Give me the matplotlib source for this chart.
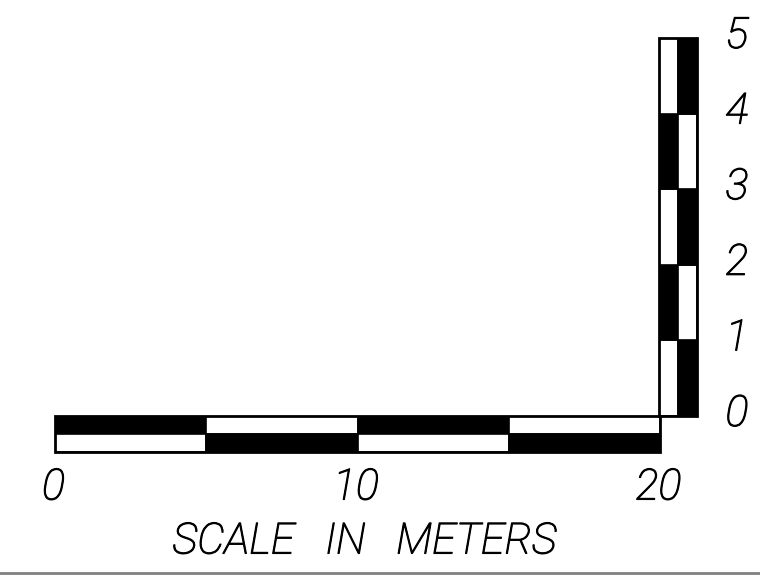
import matplotlib
matplotlib.use("Agg")
import matplotlib.pyplot as plt
import matplotlib.patheffects as pe
from matplotlib.lines import Line2D

# horizontal bar: 0..20 m in 5 m pieces, two rows
h_edges = [0, 5, 10, 15, 20]
h_top_fill = [1, 0, 1, 0]
h_bottom_fill = [0, 1, 0, 1]
h_labels = [0, 10, 20]

# vertical bar: 0..5 m in 1 m pieces, two columns
v_edges = [0, 1, 2, 3, 4, 5]
v_left_fill = [0, 1, 0, 1, 0]
v_right_fill = [1, 0, 1, 0, 1]
v_labels = [0, 1, 2, 3, 4, 5]

title = "SCALE   IN   METERS"

font = dict(family=["Roboto", "DejaVu Sans"], style="italic", weight="light", size=31,
            path_effects=[pe.withStroke(linewidth=0.8, foreground="black")])
W, H = 760, 576

fig = plt.figure(figsize=(W / 100, H / 100), dpi=100)
fig.patch.set_facecolor("white")

# horizontal bar
ax_h = fig.add_axes([55 / W, (H - 452) / H, 605 / W, 36 / H])
widths = [h_edges[i + 1] - h_edges[i] for i in range(len(h_edges) - 1)]
ax_h.bar(h_edges[:-1], 1, width=widths, bottom=1, align="edge",
         color=["black" if f else "white" for f in h_top_fill],
         edgecolor="black", linewidth=1.2)
ax_h.bar(h_edges[:-1], 1, width=widths, bottom=0, align="edge",
         color=["black" if f else "white" for f in h_bottom_fill],
         edgecolor="black", linewidth=1.2)
ax_h.set_xlim(h_edges[0], h_edges[-1])
ax_h.set_ylim(0, 2)
ax_h.axis("off")
ax_h.add_patch(plt.Rectangle((0, 0), 20, 2, fill=False, edgecolor="black",
                             linewidth=2, clip_on=False))
for v in h_labels:
    ax_h.text(v - 0.05, -2.0, str(v), ha="center", va="center",
              clip_on=False, **font)

# vertical bar
ax_v = fig.add_axes([659 / W, (H - 416) / H, 38 / W, 378 / H])
heights = [v_edges[i + 1] - v_edges[i] for i in range(len(v_edges) - 1)]
ax_v.bar(0, heights, width=1, bottom=v_edges[:-1], align="edge",
         color=["black" if f else "white" for f in v_left_fill],
         edgecolor="black", linewidth=1.2)
ax_v.bar(1, heights, width=1, bottom=v_edges[:-1], align="edge",
         color=["black" if f else "white" for f in v_right_fill],
         edgecolor="black", linewidth=1.2)
ax_v.set_xlim(0, 2)
ax_v.set_ylim(v_edges[0], v_edges[-1])
ax_v.axis("off")
ax_v.add_patch(plt.Rectangle((0, 0), 2, 5, fill=False, edgecolor="black",
                             linewidth=2, clip_on=False))
for v in v_labels:
    ax_v.text(2.05, v + 0.02, str(v), ha="center", va="center",
              transform=ax_v.get_yaxis_transform(), clip_on=False, **font)

fig.text(364 / W, 1 - 542 / H, title, ha="center", va="center", **font)

# grey rule along the bottom edge
fig.add_artist(Line2D([0, 1], [3 / H, 3 / H], color="#808080", linewidth=2))

fig.savefig("out.png", dpi=100, facecolor="white")
